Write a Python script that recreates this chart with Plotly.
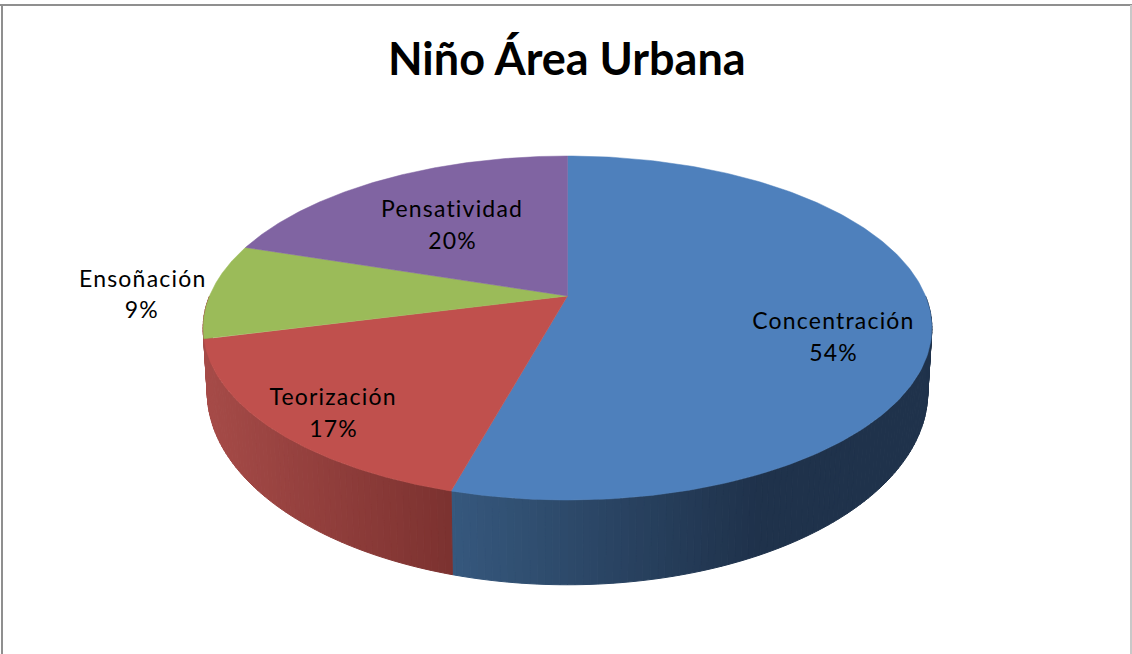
import numpy as np
import plotly.graph_objects as go

# datos del grafico
categories = ["Concentración", "Teorización", "Ensoñación", "Pensatividad"]
percents = [54.3, 16.7, 9.0, 20.0]
title_text = "Niño Área Urbana"

# estilo
top_colors = ["#4e80bc", "#c0504d", "#9bbb59", "#8064a2"]
# color de la pared lateral: (x izquierda, rgb izquierda, x derecha, rgb derecha)
wall_shades = {
    0: (455, (54, 88, 125), 760, (31, 50, 75)),
    1: (205, (166, 75, 72), 452, (124, 50, 48)),
}
label_pos = [(833, 320, 352), (333, 396, 428), (142, 278, 309), (452, 208, 240)]

CX = 567.5
PERSP = 0.186


def rim(theta, level="top"):
    # perspectiva: theta en grados, horario desde el fondo del pastel
    t = np.radians(theta)
    u, v = np.sin(t), np.cos(t)
    w = 1 + PERSP * v
    if level == "top":
        return CX + 358 * u / w, (-111 * v + 296) / w
    return CX + 354 * u / w, (-120 * v + 356) / w


def mix(x, shade):
    x0, c0, x1, c1 = shade
    k = min(max((x - x0) / (x1 - x0), 0), 1)
    return "rgb(%d,%d,%d)" % tuple(c0[i] + (c1[i] - c0[i]) * k for i in range(3))


fig = go.Figure()

edges = np.concatenate([[0], np.cumsum(percents) * 3.6])

# paredes laterales, franjas finas para el degradado
# solo azul y rojo se ven de frente, el rojo llega hasta el borde izquierdo
for i, (start, end) in enumerate([(90, edges[1]), (edges[1], 270)]):
    steps = np.arange(start, end, 1.0).tolist() + [end]
    for a, b in zip(steps[:-1], steps[1:]):
        xa, ya = rim(a)
        xb, yb = rim(b)
        xc, yc = rim(b, "bottom")
        xd, yd = rim(a, "bottom")
        col = mix((xa + xb) / 2, wall_shades[i])
        fig.add_trace(go.Scatter(
            x=[xa, xb, xc, xd, xa], y=[ya, yb, yc, yd, ya],
            mode="lines", fill="toself", fillcolor=col,
            line=dict(color=col, width=1),
            hoverinfo="skip", showlegend=False,
        ))

# caras superiores
for i, name in enumerate(categories):
    angles = np.linspace(edges[i], edges[i + 1], 200)
    xs, ys = rim(angles)
    fig.add_trace(go.Scatter(
        x=[CX] + xs.tolist() + [CX], y=[296] + ys.tolist() + [296],
        mode="lines", fill="toself", fillcolor=top_colors[i],
        line=dict(color=top_colors[i], width=0.5),
        name=name, text=f"{name}: {percents[i]:.0f}%", hoverinfo="text",
        showlegend=False,
    ))

# etiquetas
for i, name in enumerate(categories):
    x, y1, y2 = label_pos[i]
    for txt, y in ((name, y1), (f"{percents[i]:.0f}%", y2)):
        fig.add_annotation(
            x=x, y=y, text=txt, showarrow=False, xref="x", yref="y",
            font=dict(family="Lato", size=23, color="#000000"),
        )

fig.add_annotation(
    x=567, y=58, text=f"<b>{title_text}</b>", showarrow=False, xref="x", yref="y",
    font=dict(family="Lato", size=45, color="#000000"),
)

# borde del area del grafico (abajo queda cortado)
fig.add_shape(type="line", x0=0, x1=1132, y0=5, y1=5, line=dict(color="#8f8f8f", width=2))
fig.add_shape(type="line", x0=2, x1=2, y0=5, y1=654, line=dict(color="#8f8f8f", width=2))
fig.add_shape(type="line", x0=1131, x1=1131, y0=5, y1=654, line=dict(color="#c8c8c8", width=2))

fig.update_layout(
    width=1132,
    height=654,
    margin=dict(l=0, r=0, t=0, b=0),
    paper_bgcolor="#ffffff",
    plot_bgcolor="#ffffff",
    xaxis=dict(range=[0, 1132], visible=False, fixedrange=True),
    yaxis=dict(range=[654, 0], visible=False, fixedrange=True),
    showlegend=False,
)

# el original tiene las letras de las etiquetas mas separadas
spacing_js = """
document.body.style.margin='0';
document.body.style.overflow='hidden';
document.querySelectorAll('.annotation-text').forEach(function (t) {
  if (t.style.fontSize === '23px') { t.style.letterSpacing = '1.2px'; }
});
"""

fig.write_html("out.html", config=dict(displayModeBar=False), post_script=spacing_js)
